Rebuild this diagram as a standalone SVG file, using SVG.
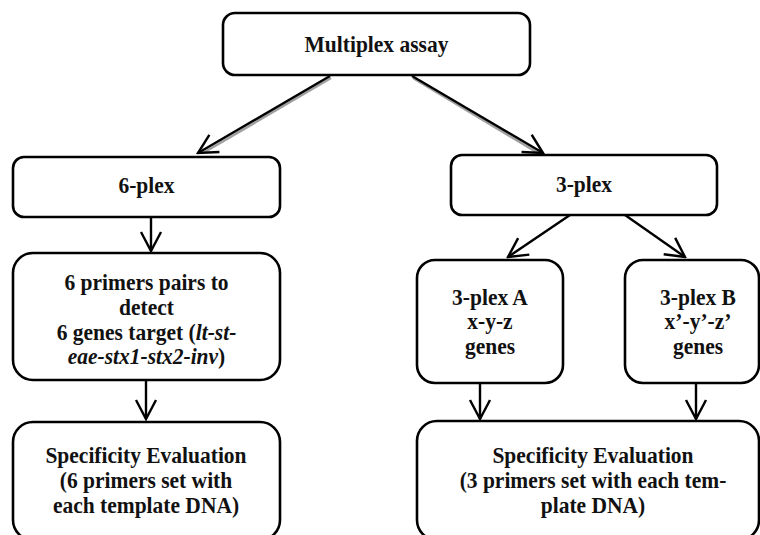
<svg xmlns="http://www.w3.org/2000/svg" width="760" height="535" viewBox="0 0 760 535">
  <style>
    .box { fill: #ffffff; stroke: #000000; stroke-width: 2.6; }
    .lbl { font-family: 'Liberation Serif', 'Times New Roman', serif; font-weight: 700; font-size: 21.5px; fill: #111111; text-anchor: middle; }
    .it { font-style: italic; }
    .wire { fill: none; stroke: #000000; stroke-width: 2.4; }
    .shadow { fill: none; stroke: #a0a0a0; stroke-width: 2.6; }
  </style>
  <defs>
    <marker id="head" viewBox="-22 -12 24 24" refX="0" refY="0" markerWidth="24" markerHeight="24" markerUnits="userSpaceOnUse" orient="auto">
      <path d="M-19,-10 L0,0 L-19,10" fill="none" stroke="#000000" stroke-width="2.4"/>
    </marker>
  </defs>
  <rect width="760" height="535" fill="#ffffff"/>

  <!-- connectors -->
  <g id="connectors">
    <line class="shadow" x1="331" y1="78" x2="203" y2="153"/>
    <line class="shadow" x1="413" y1="78" x2="538" y2="153"/>
    <line class="wire" x1="330" y1="76" x2="198" y2="153" marker-end="url(#head)"/>
    <line class="wire" x1="412" y1="76" x2="543" y2="153" marker-end="url(#head)"/>
    <line class="wire" x1="151" y1="217" x2="151" y2="251" marker-end="url(#head)"/>
    <line class="wire" x1="146" y1="380" x2="146" y2="419" marker-end="url(#head)"/>
    <line class="wire" x1="570" y1="215" x2="508" y2="257" marker-end="url(#head)"/>
    <line class="wire" x1="625" y1="215" x2="685" y2="257" marker-end="url(#head)"/>
    <line class="wire" x1="480" y1="383" x2="480" y2="419" marker-end="url(#head)"/>
    <line class="wire" x1="696" y1="383" x2="696" y2="419" marker-end="url(#head)"/>
  </g>

  <!-- labels are stretched slightly upward from their baselines -->
  <g id="multiplex">
    <rect class="box" x="223" y="13" width="307" height="62" rx="12"/>
    <text class="lbl" x="376.5" y="52" transform="matrix(1 0 0 1.06 0 -3.12)">Multiplex assay</text>
  </g>

  <g id="six-plex">
    <rect class="box" x="13" y="157" width="267" height="60" rx="11"/>
    <text class="lbl" x="146.5" y="193" transform="matrix(1 0 0 1.06 0 -11.58)">6-plex</text>
  </g>

  <g id="three-plex">
    <rect class="box" x="451" y="155" width="266" height="60" rx="11"/>
    <text class="lbl" x="584" y="192" transform="matrix(1 0 0 1.06 0 -11.52)">3-plex</text>
  </g>

  <g id="six-primers">
    <rect class="box" x="13" y="253" width="267" height="127" rx="20"/>
    <text class="lbl" x="146.5" y="290" transform="matrix(1 0 0 1.06 0 -17.4)">6 primers pairs to</text>
    <text class="lbl" x="146.5" y="315" transform="matrix(1 0 0 1.06 0 -18.9)">detect</text>
    <text class="lbl" x="146.5" y="340" transform="matrix(1 0 0 1.06 0 -20.4)">6 genes target (<tspan class="it">lt-st-</tspan></text>
    <text class="lbl" x="146.5" y="364" transform="matrix(1 0 0 1.06 0 -21.84)"><tspan class="it">eae-stx1-stx2-inv</tspan>)</text>
  </g>

  <g id="three-plex-a">
    <rect class="box" x="417" y="260" width="146" height="123" rx="18"/>
    <text class="lbl" x="490" y="305" transform="matrix(1 0 0 1.06 0 -18.3)">3-plex A</text>
    <text class="lbl" x="490" y="329" transform="matrix(1 0 0 1.06 0 -19.74)">x-y-z</text>
    <text class="lbl" x="490" y="354" transform="matrix(1 0 0 1.06 0 -21.24)">genes</text>
  </g>

  <g id="three-plex-b">
    <rect class="box" x="625" y="260" width="134" height="123" rx="18"/>
    <text class="lbl" x="698" y="305" transform="matrix(1 0 0 1.06 0 -18.3)">3-plex B</text>
    <text class="lbl" x="698" y="329" transform="matrix(1 0 0 1.06 0 -19.74)">x’-y’-z’</text>
    <text class="lbl" x="698" y="354" transform="matrix(1 0 0 1.06 0 -21.24)">genes</text>
  </g>

  <g id="spec-six">
    <rect class="box" x="13" y="422" width="267" height="118" rx="20"/>
    <text class="lbl" x="146" y="463" transform="matrix(1 0 0 1.06 0 -27.78)">Specificity Evaluation</text>
    <text class="lbl" x="146" y="488" transform="matrix(1 0 0 1.06 0 -29.28)">(6 primers set with</text>
    <text class="lbl" x="146" y="513" transform="matrix(1 0 0 1.06 0 -30.78)">each template DNA)</text>
  </g>

  <g id="spec-three">
    <rect class="box" x="417" y="421" width="342" height="119" rx="20"/>
    <text class="lbl" x="593" y="463" transform="matrix(1 0 0 1.06 0 -27.78)">Specificity Evaluation</text>
    <text class="lbl" x="593" y="488" transform="matrix(1 0 0 1.06 0 -29.28)">(3 primers set with each tem-</text>
    <text class="lbl" x="593" y="513" transform="matrix(1 0 0 1.06 0 -30.78)">plate DNA)</text>
  </g>
</svg>
